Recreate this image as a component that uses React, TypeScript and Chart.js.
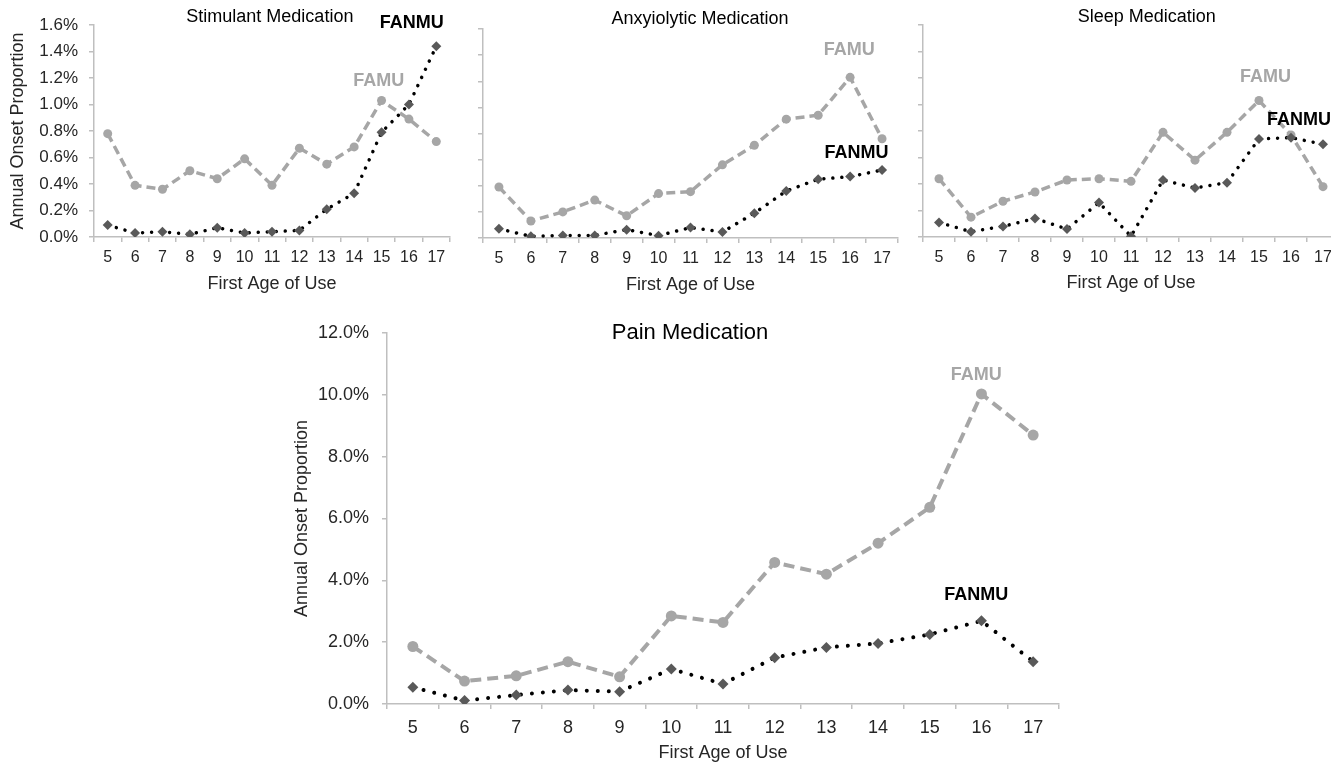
import React, { useEffect, useRef } from 'react';
import { Chart, registerables } from 'chart.js';

Chart.register(...registerables);

const FONT = "'Liberation Sans', Arial, sans-serif";

// ---------- data (values in percent) ----------
const ages = ['5', '6', '7', '8', '9', '10', '11', '12', '13', '14', '15', '16', '17'];

const stimulantFAMU = [0.78, 0.39, 0.36, 0.5, 0.44, 0.59, 0.39, 0.67, 0.55, 0.68, 1.03, 0.89, 0.72];
const stimulantFANMU = [0.09, 0.03, 0.04, 0.02, 0.07, 0.03, 0.04, 0.05, 0.21, 0.33, 0.79, 1.0, 1.44];

const anxiolyticFAMU = [0.39, 0.13, 0.2, 0.29, 0.17, 0.34, 0.355, 0.56, 0.71, 0.91, 0.94, 1.23, 0.76];
const anxiolyticFANMU = [0.07, 0.013, 0.02, 0.02, 0.064, 0.018, 0.08, 0.046, 0.19, 0.36, 0.45, 0.47, 0.52];

const sleepFAMU = [0.44, 0.15, 0.27, 0.34, 0.43, 0.44, 0.42, 0.79, 0.58, 0.79, 1.03, 0.77, 0.38];
const sleepFANMU = [0.11, 0.04, 0.08, 0.14, 0.06, 0.26, 0.005, 0.43, 0.37, 0.41, 0.74, 0.75, 0.7];

const painFAMU = [1.86, 0.74, 0.91, 1.37, 0.88, 2.85, 2.64, 4.58, 4.2, 5.2, 6.36, 10.03, 8.7];
const painFANMU = [0.54, 0.11, 0.29, 0.45, 0.4, 1.13, 0.65, 1.5, 1.83, 1.96, 2.25, 2.69, 1.37];

const smallTicksMax = 1.6;
const smallTicksStep = 0.2;
const painTicksMax = 12;
const painTicksStep = 2;

const seriesNames = ['FAMU', 'FANMU'];
const xTitle = 'First Age of Use';
const yTitle = 'Annual Onset Proportion';

const AXIS = '#bfbfbf';
const TICK_TEXT = '#262626';
const FAMU_COLOR = '#a6a6a6';
const FANMU_MARK = '#595959';

type LabelSpec = { text: string; idx: number; val: number; color: string };

type PanelProps = {
  left: number;
  top: number;
  width: number;
  height: number;
  famu: number[];
  fanmu: number[];
  max: number;
  step: number;
  decimals: number;
  showYLabels: boolean;
  yAxisWidth: number;
  xAxisHeight: number;
  padTop: number;
  padRight: number;
  title: string;
  titleSize: number;
  titleFrac: number;
  titleY: number;
  tickSize: number;
  yTickSize: number;
  xTickPad: number;
  yTickPad: number;
  axisTitleSize: number;
  xTitlePad: number;
  yTitlePad: number;
  big: boolean;
  labels: LabelSpec[];
};

function Panel(p: PanelProps) {
  const ref = useRef<HTMLCanvasElement | null>(null);

  useEffect(() => {
    if (!ref.current) return;
    const textPlugin = {
      id: 'panelText',
      afterDraw(chart: any) {
        const { ctx, chartArea, scales } = chart;
        ctx.save();
        ctx.textAlign = 'center';
        ctx.textBaseline = 'middle';
        ctx.fillStyle = '#000';
        ctx.font = `${p.titleSize}px ${FONT}`;
        ctx.fillText(p.title, chartArea.left + p.titleFrac * (chartArea.right - chartArea.left), p.titleY);
        ctx.font = `bold 18px ${FONT}`;
        for (const l of p.labels) {
          ctx.fillStyle = l.color;
          ctx.fillText(l.text, scales.x.getPixelForValue(l.idx), scales.y.getPixelForValue(l.val));
        }
        ctx.restore();
      },
    };

    const chart = new Chart(ref.current, {
      type: 'line',
      data: {
        labels: ages,
        datasets: [
          {
            label: seriesNames[1],
            data: p.fanmu,
            borderColor: '#000',
            borderWidth: p.big ? 4 : 3.5,
            borderDash: p.big ? [0.01, 11] : [0.01, 9],
            borderCapStyle: 'round',
            pointStyle: 'rectRot',
            pointRadius: p.big ? 5.5 : 5,
            pointBackgroundColor: FANMU_MARK,
            pointBorderWidth: 0,
            tension: 0,
            fill: false,
          },
          {
            label: seriesNames[0],
            data: p.famu,
            borderColor: FAMU_COLOR,
            borderWidth: p.big ? 4 : 3.5,
            borderDash: p.big ? [11, 6] : [9, 5],
            pointStyle: 'circle',
            pointRadius: p.big ? 5.5 : 4.5,
            pointBackgroundColor: FAMU_COLOR,
            pointBorderWidth: 0,
            tension: 0,
            fill: false,
          },
        ],
      },
      options: {
        animation: false,
        responsive: false,
        devicePixelRatio: 1,
        layout: { padding: { left: 0, top: p.padTop, right: p.padRight, bottom: 0 } },
        plugins: { legend: { display: false }, tooltip: { enabled: false }, title: { display: false } },
        events: [],
        scales: {
          x: {
            type: 'category',
            offset: true,
            afterFit: (s: any) => {
              s.height = p.xAxisHeight;
            },
            grid: {
              display: true,
              drawOnChartArea: false,
              drawTicks: true,
              tickLength: 5,
              offset: true,
              color: AXIS,
              lineWidth: 1.5,
            },
            border: { display: true, color: AXIS, width: 1.5 },
            ticks: {
              autoSkip: false,
              maxRotation: 0,
              padding: p.xTickPad,
              color: TICK_TEXT,
              font: { family: FONT, size: p.tickSize },
            },
            title: {
              display: true,
              text: xTitle,
              color: TICK_TEXT,
              font: { family: FONT, size: p.axisTitleSize },
              padding: { top: 0, bottom: p.xTitlePad },
            },
          },
          y: {
            min: 0,
            max: p.max,
            afterFit: (s: any) => {
              s.width = p.yAxisWidth;
            },
            grid: {
              display: true,
              drawOnChartArea: false,
              drawTicks: true,
              tickLength: 5,
              color: AXIS,
              lineWidth: 1.5,
            },
            border: { display: true, color: AXIS, width: 1.5 },
            ticks: {
              stepSize: p.step,
              padding: p.yTickPad,
              color: TICK_TEXT,
              font: { family: FONT, size: p.yTickSize },
              callback: (v: any) => (p.showYLabels ? Number(v).toFixed(p.decimals) + '%' : ''),
            },
            title: {
              display: p.showYLabels,
              text: yTitle,
              color: TICK_TEXT,
              font: { family: FONT, size: p.axisTitleSize },
              padding: { top: p.yTitlePad, bottom: 0 },
            },
          },
        },
      },
      plugins: [textPlugin],
    } as any);
    return () => chart.destroy();
  }, []);

  return (
    <canvas
      ref={ref}
      width={p.width}
      height={p.height}
      style={{ position: 'absolute', left: p.left, top: p.top, width: p.width, height: p.height }}
    />
  );
}

export default function App() {
  const common = {
    max: smallTicksMax,
    step: smallTicksStep,
    decimals: 1,
    titleSize: 18,
    tickSize: 16,
    yTickSize: 17,
    xTickPad: 6,
    yTickPad: 11,
    axisTitleSize: 18,
    yTitlePad: 7,
    big: false,
  };
  return (
    <div
      style={{
        position: 'fixed',
        left: 0,
        top: 0,
        width: 1331,
        height: 763,
        overflow: 'hidden',
        background: '#fff',
      }}
    >
      <Panel
        {...common}
        left={0}
        top={0}
        width={465}
        height={300}
        famu={stimulantFAMU}
        fanmu={stimulantFANMU}
        showYLabels={true}
        yAxisWidth={94}
        xAxisHeight={63}
        padTop={25}
        padRight={15}
        title="Stimulant Medication"
        titleFrac={0.494}
        titleY={17}
        xTitlePad={5}
        labels={[
          { text: 'FANMU', idx: 11.1, val: 1.615, color: '#000' },
          { text: 'FAMU', idx: 9.9, val: 1.18, color: FAMU_COLOR },
        ]}
      />
      <Panel
        {...common}
        left={465}
        top={0}
        width={440}
        height={300}
        famu={anxiolyticFAMU}
        fanmu={anxiolyticFANMU}
        showYLabels={false}
        yAxisWidth={18}
        xAxisHeight={62}
        padTop={29}
        padRight={7}
        title="Anxyiolytic Medication"
        titleFrac={0.523}
        titleY={19}
        xTitlePad={4}
        labels={[
          { text: 'FAMU', idx: 10.97, val: 1.44, color: FAMU_COLOR },
          { text: 'FANMU', idx: 11.2, val: 0.65, color: '#000' },
        ]}
      />
      <Panel
        {...common}
        left={905}
        top={0}
        width={440}
        height={300}
        famu={sleepFAMU}
        fanmu={sleepFANMU}
        showYLabels={false}
        yAxisWidth={18}
        xAxisHeight={63}
        padTop={25}
        padRight={6}
        title="Sleep Medication"
        titleFrac={0.538}
        titleY={17}
        xTitlePad={6}
        labels={[
          { text: 'FAMU', idx: 10.2, val: 1.21, color: FAMU_COLOR },
          { text: 'FANMU', idx: 11.25, val: 0.88, color: '#000' },
        ]}
      />
      <Panel
        left={280}
        top={300}
        width={800}
        height={464}
        famu={painFAMU}
        fanmu={painFANMU}
        max={painTicksMax}
        step={painTicksStep}
        decimals={1}
        showYLabels={true}
        yAxisWidth={107}
        xAxisHeight={60}
        padTop={33}
        padRight={21}
        title="Pain Medication"
        titleSize={22}
        titleFrac={0.451}
        titleY={33}
        tickSize={18}
        yTickSize={18}
        xTickPad={8}
        yTickPad={13}
        axisTitleSize={18}
        xTitlePad={0}
        yTitlePad={11}
        big={true}
        labels={[
          { text: 'FAMU', idx: 10.9, val: 10.65, color: FAMU_COLOR },
          { text: 'FANMU', idx: 10.9, val: 3.53, color: '#000' },
        ]}
      />
    </div>
  );
}
